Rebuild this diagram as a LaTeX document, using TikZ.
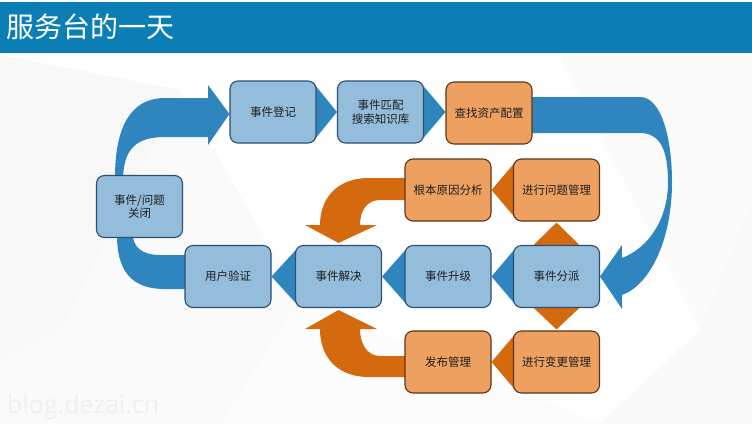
\documentclass[tikz,border=0pt]{standalone}
\usepackage{fontspec}
\setmainfont{Noto Sans CJK SC}
\newfontfamily\wmfont{Open Sans}
\usetikzlibrary{calc}
\pgfdeclarelayer{bglayer}
\pgfdeclarelayer{arrlayer}
\pgfsetlayers{bglayer,arrlayer,main}
\definecolor{titlebar}{HTML}{0B7FB5}
\definecolor{arrowblue}{HTML}{2F86BE}
\definecolor{boxblue}{HTML}{93BDDA}
\definecolor{edgeblue}{HTML}{2B4F73}
\definecolor{boxorange}{HTML}{EDA060}
\definecolor{edgeorange}{HTML}{5E3514}
\definecolor{arroworange}{HTML}{D4690E}
\definecolor{facet}{HTML}{EEEEEE}
\tikzset{
  stepbox/.style={rounded corners=8pt, line width=1.1pt, minimum width=86pt, minimum height=62pt,
    inner sep=2pt, align=center, font=\fontsize{11.5}{13.5}\selectfont, text=black!88},
  bluebox/.style={stepbox, draw=edgeblue, fill=boxblue},
  orangebox/.style={stepbox, draw=edgeorange, fill=boxorange},
  barrow/.style={fill=arrowblue},
  oarrow/.style={fill=arroworange},
}
\begin{document}
\begin{tikzpicture}[x=1pt,y=-1pt]
\useasboundingbox (0,0) rectangle (752,424);
% boxes
\path
  (273,112)   node[bluebox]   (reg)   {事件登记}
  (380.5,112) node[bluebox]   (match) {事件匹配\\搜索知识库}
  (489,113)   node[orangebox] (asset) {查找资产配置}
  (448,190)   node[orangebox] (root)  {根本原因分析}
  (556.5,190) node[orangebox] (prob)  {进行问题管理}
  (556.5,276.5) node[bluebox] (disp)  {事件分派}
  (448,276.5) node[bluebox]   (esc)   {事件升级}
  (338.5,276.5) node[bluebox] (res)   {事件解决}
  (228,276.5) node[bluebox]   (ver)   {用户验证}
  (139.5,206.5) node[bluebox] (close) {事件/问题\\关闭}
  (448,362)   node[orangebox] (rel)   {发布管理}
  (556.5,362) node[orangebox] (chg)   {进行变更管理};

\begin{pgfonlayer}{bglayer}
\fill[white] (0,0) rectangle (752,424);
\fill[facet!40] (0,55) -- (180,90) -- (60,330) -- (0,360) -- cycle;
\fill[facet!30] (60,330) -- (180,90) -- (300,300) -- (220,424) -- (0,424) -- (0,360) -- cycle;
\fill[facet!22] (560,55) -- (752,55) -- (752,200) -- (700,330) -- cycle;
\fill[facet!35] (700,330) -- (752,200) -- (752,424) -- (600,424) -- cycle;
\fill[facet!15] (300,300) -- (600,424) -- (220,424) -- cycle;
\fill[titlebar] (0,1.5) rectangle (752,53);
\end{pgfonlayer}
\node[anchor=west, text=white, font=\fontsize{28}{30}\selectfont, inner sep=0pt] (title) at (6,27) {服务台的一天};
\node[anchor=base west, text=black!6, font=\wmfont\fontsize{25}{27}\selectfont, inner sep=0pt] (wm) at (7,413) {blog.dezai.cn};

\begin{pgfonlayer}{arrlayer}
% small blue triangles
\fill[barrow] ($(reg.east)+(-4,-30)$) -- (match.west) -- ($(reg.east)+(-4,30)$) -- cycle;
\fill[barrow] ($(match.east)+(-4,-30)$) -- ($(asset.west)+(0,-1)$) -- ($(match.east)+(-4,30)$) -- cycle;
\fill[barrow] ($(disp.west)+(4,-30)$) -- (esc.east) -- ($(disp.west)+(4,30)$) -- cycle;
\fill[barrow] ($(esc.west)+(4,-30)$) -- (res.east) -- ($(esc.west)+(4,30)$) -- cycle;
\fill[barrow] ($(res.west)+(4,-30)$) -- (ver.east) -- ($(res.west)+(4,30)$) -- cycle;
% small orange triangles
\fill[oarrow] ($(prob.west)+(4,-30)$) -- (root.east) -- ($(prob.west)+(4,30)$) -- cycle;
\fill[oarrow] ($(chg.west)+(4,-30)$) -- (rel.east) -- ($(chg.west)+(4,30)$) -- cycle;
\fill[oarrow] ($(disp.north)+(-28,5)$) -- ($(prob.south)+(0,1)$) -- ($(disp.north)+(28,5)$) -- cycle;
\fill[oarrow] ($(disp.south)+(-28,-5)$) -- ($(chg.north)+(0,-1)$) -- ($(disp.south)+(28,-5)$) -- cycle;
% big blue arrow: close -> reg
\fill[barrow] ($(close.north)+(-24.5,3)$) .. controls (115,120) and (135,98) .. (165,98)
  -- (208,98) -- (208,85) -- ($(reg.west)+(0,2)$) -- (208,145) -- (208,137) -- (165,137)
  .. controls (135,137) and (124,150) .. ($(close.north)+(-16.5,3)$) -- cycle;
% big blue arrow: asset -> disp
\fill[barrow] ($(asset.east)+(-3,-16)$) -- (640,97) .. controls (662,97) and (672,140) .. (672,182)
  .. controls (672,240) and (650,285) .. (622,295) -- (622,309) -- (disp.east) -- (622,245)
  -- (622,258) .. controls (648,248) and (668,220) .. (668,182)
  .. controls (668,150) and (660,133) .. (640,133) -- ($(asset.east)+(-3,20)$) -- cycle;
% big blue band: ver -> close
\fill[barrow] ($(ver.west)+(3,-21.5)$) -- (160,255) .. controls (140,255) and (133,245) .. ($(close.south)+(-6.5,-3)$)
  -- ($(close.south)+(-22.5,-3)$) .. controls (117,275) and (135,289) .. (165,289)
  -- ($(ver.west)+(3,12.5)$) -- cycle;
% orange curved arrow: root -> res (top)
\fill[oarrow] ($(root.west)+(3,-12)$) -- (367,178) .. controls (335,179) and (320,200) .. (320,225)
  -- (305,225) -- ($(res.north)+(0,-2)$) -- (377,225) -- (360,225)
  .. controls (360,212) and (366,200) .. (380,200) -- ($(root.west)+(3,10)$) -- cycle;
% orange curved arrow: rel -> res (bottom)
\fill[oarrow] ($(rel.west)+(3,15)$) -- (367,377) .. controls (335,376) and (320,355) .. (320,329)
  -- (305,329) -- ($(res.south)+(0,2)$) -- (377,329) -- (360,329)
  .. controls (360,342) and (366,356) .. (380,356) -- ($(rel.west)+(3,-6)$) -- cycle;
\end{pgfonlayer}
\end{tikzpicture}
\end{document}
